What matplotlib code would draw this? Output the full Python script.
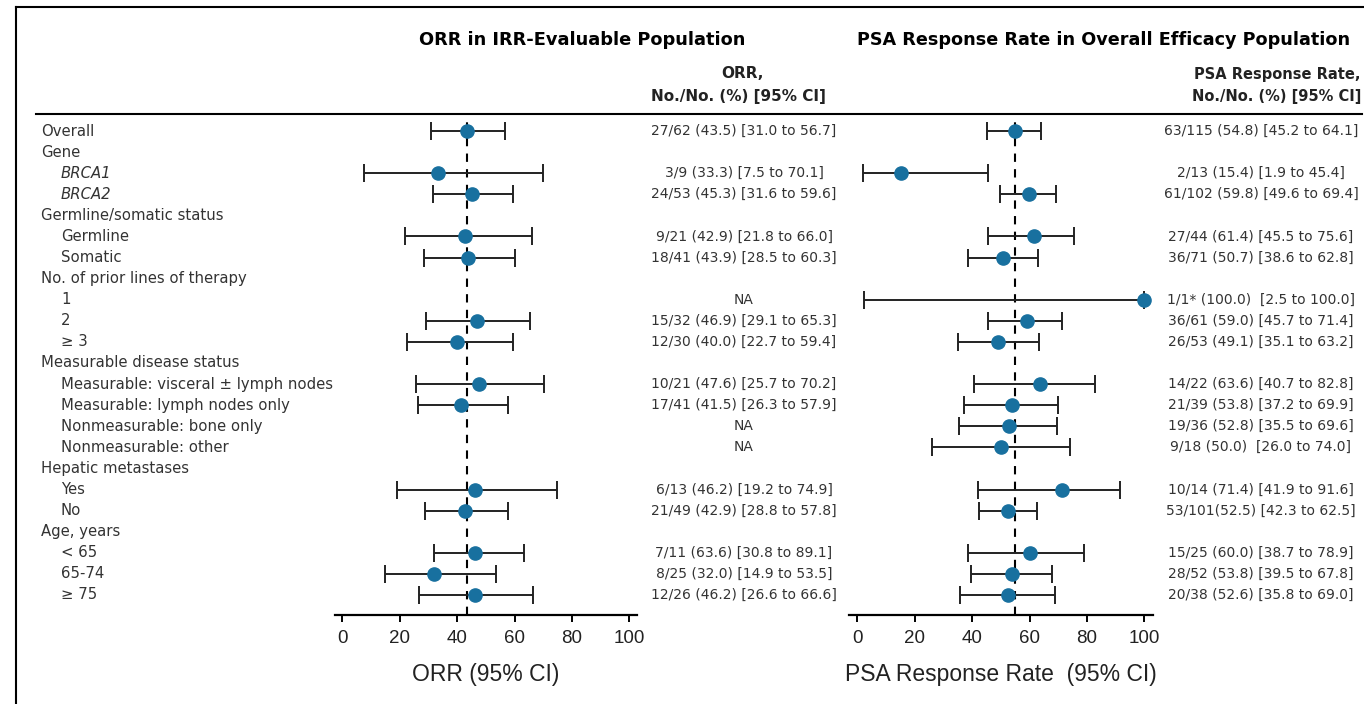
import numpy as np
import matplotlib
matplotlib.use("Agg")
import matplotlib.pyplot as plt
from matplotlib.lines import Line2D
from matplotlib.transforms import blended_transform_factory

nan = np.nan

# rows of the table, indent level 0 = group header
rows = ["Overall", "Gene", "BRCA1", "BRCA2", "Germline/somatic status", "Germline",
        "Somatic", "No. of prior lines of therapy", "1", "2", "\u2265 3",
        "Measurable disease status", "Measurable: visceral \u00b1 lymph nodes",
        "Measurable: lymph nodes only", "Nonmeasurable: bone only",
        "Nonmeasurable: other", "Hepatic metastases", "Yes", "No", "Age, years",
        "< 65", "65-74", "\u2265 75"]
indent = [0, 0, 1, 1, 0, 1, 1, 0, 1, 1, 1, 0, 1, 1, 1, 1, 0, 1, 1, 0, 1, 1, 1]
italic = ["BRCA1", "BRCA2"]

# ORR (as drawn)
orr = [43.5, nan, 33.3, 45.3, nan, 42.9, 43.9, nan, nan, 46.9, 40.0, nan, 47.6, 41.5,
       nan, nan, nan, 46.2, 42.9, nan, 46.2, 32.0, 46.2]
orr_lo = [31.0, nan, 7.5, 31.6, nan, 21.8, 28.5, nan, nan, 29.1, 22.7, nan, 25.7, 26.3,
          nan, nan, nan, 19.2, 28.8, nan, 31.8, 14.9, 26.6]
orr_hi = [56.7, nan, 70.1, 59.6, nan, 66.0, 60.3, nan, nan, 65.3, 59.4, nan, 70.2, 57.9,
          nan, nan, nan, 74.9, 57.8, nan, 63.2, 53.5, 66.6]
orr_txt = ["27/62 (43.5) [31.0 to 56.7]", "", "3/9 (33.3) [7.5 to 70.1]",
           "24/53 (45.3) [31.6 to 59.6]", "", "9/21 (42.9) [21.8 to 66.0]",
           "18/41 (43.9) [28.5 to 60.3]", "", "NA", "15/32 (46.9) [29.1 to 65.3]",
           "12/30 (40.0) [22.7 to 59.4]", "", "10/21 (47.6) [25.7 to 70.2]",
           "17/41 (41.5) [26.3 to 57.9]", "NA", "NA", "", "6/13 (46.2) [19.2 to 74.9]",
           "21/49 (42.9) [28.8 to 57.8]", "", "7/11 (63.6) [30.8 to 89.1]",
           "8/25 (32.0) [14.9 to 53.5]", "12/26 (46.2) [26.6 to 66.6]"]
orr_ref = 43.5

# PSA response rate
psa = [54.8, nan, 15.4, 59.8, nan, 61.4, 50.7, nan, 100.0, 59.0, 49.1, nan, 63.6, 53.8,
       52.8, 50.0, nan, 71.4, 52.5, nan, 60.0, 53.8, 52.6]
psa_lo = [45.2, nan, 1.9, 49.6, nan, 45.5, 38.6, nan, 2.5, 45.7, 35.1, nan, 40.7, 37.2,
          35.5, 26.0, nan, 41.9, 42.3, nan, 38.7, 39.5, 35.8]
psa_hi = [64.1, nan, 45.4, 69.4, nan, 75.6, 62.8, nan, 100.0, 71.4, 63.2, nan, 82.8, 69.9,
          69.6, 74.0, nan, 91.6, 62.5, nan, 78.9, 67.8, 69.0]
psa_txt = ["63/115 (54.8) [45.2 to 64.1]", "", "2/13 (15.4) [1.9 to 45.4]",
           "61/102 (59.8) [49.6 to 69.4]", "", "27/44 (61.4) [45.5 to 75.6]",
           "36/71 (50.7) [38.6 to 62.8]", "", "1/1* (100.0)  [2.5 to 100.0]",
           "36/61 (59.0) [45.7 to 71.4]", "26/53 (49.1) [35.1 to 63.2]", "",
           "14/22 (63.6) [40.7 to 82.8]", "21/39 (53.8) [37.2 to 69.9]",
           "19/36 (52.8) [35.5 to 69.6]", "9/18 (50.0)  [26.0 to 74.0]", "",
           "10/14 (71.4) [41.9 to 91.6]", "53/101(52.5) [42.3 to 62.5]", "",
           "15/25 (60.0) [38.7 to 78.9]", "28/52 (53.8) [39.5 to 67.8]",
           "20/38 (52.6) [35.8 to 69.0]"]
psa_ref = 54.8

ticks = [0, 20, 40, 60, 80, 100]

W, H = 1364, 704
fig = plt.figure(figsize=(W / 100, H / 100), dpi=100)
fig.patch.set_facecolor("white")

narrow = ["Liberation Sans", "DejaVu Sans"]
text_col = "#333333"
dot_col = "#18709f"

# pixel layout
y_top, y_bot = 114, 615
row0, row_step = 131, 21.09
ylim = ((y_bot - row0) / row_step, (y_top - row0) / row_step)


def fx(px):
    return px / W


def fy(py):
    return 1 - py / H


def make_axes(x0, x1, px_zero, px_per_unit):
    ax = fig.add_axes([fx(x0), fy(y_bot), fx(x1 - x0), (y_bot - y_top) / H])
    ax.set_xlim((x0 - px_zero) / px_per_unit, (x1 - px_zero) / px_per_unit)
    ax.set_ylim(*ylim)
    for s in ["top", "left", "right"]:
        ax.spines[s].set_visible(False)
    ax.spines["bottom"].set_linewidth(1.6)
    ax.set_yticks([])
    ax.set_xticks(ticks)
    ax.tick_params(axis="x", direction="out", length=5, width=1.4, pad=6,
                   labelsize=13.5, labelcolor="#222222")
    for lab in ax.get_xticklabels():
        lab.set_family(narrow)
    ax.patch.set_alpha(0)
    return ax


ax1 = make_axes(335, 637, 342.3, 2.87)
ax2 = make_axes(849, 1153, 857.3, 2.87)

y = np.arange(len(rows))
for ax, val, lo, hi, ref in [(ax1, orr, orr_lo, orr_hi, orr_ref),
                             (ax2, psa, psa_lo, psa_hi, psa_ref)]:
    val = np.array(val)
    lo = np.array(lo)
    hi = np.array(hi)
    ax.axvline(ref, color="black", lw=1.5, ls=(0, (4, 3.5)), zorder=1)
    ax.errorbar(val, y, xerr=[val - lo, hi - val], fmt="none", ecolor="#222222",
                elinewidth=1.4, capsize=6.5, capthick=1.4, zorder=2)
    ax.plot(val, y, "o", color=dot_col, ms=9.5, zorder=3)

ax1.set_xlabel("ORR (95% CI)", fontsize=16.5, family=narrow, color="#222222",
               labelpad=11)
ax2.set_xlabel("PSA Response Rate  (95% CI)", fontsize=16.5, family=narrow,
               color="#222222", labelpad=11)

# row labels and value columns
tr = blended_transform_factory(fig.transFigure, ax1.transData)
for i, name in enumerate(rows):
    style = "italic" if name in italic else "normal"
    fig.text(fx(41 + 20 * indent[i]), i, name, transform=tr, fontsize=10.7,
             color=text_col, va="center", ha="left", style=style)
    if orr_txt[i]:
        fig.text(fx(744), i, orr_txt[i], transform=tr, fontsize=10, color=text_col,
                 va="center", ha="center")
    if psa_txt[i]:
        fig.text(fx(1261), i, psa_txt[i], transform=tr, fontsize=10, color=text_col,
                 va="center", ha="center")

# headers
fig.text(fx(582), fy(40), "ORR in IRR-Evaluable Population", fontsize=12.8,
         weight="bold", ha="center", va="center")
fig.text(fx(1104), fy(40), "PSA Response Rate in Overall Efficacy Population",
         fontsize=12.7, weight="bold", ha="center", va="center")
fig.text(fx(742), fy(74), "ORR,", fontsize=11, weight="bold", ha="center", va="center",
         color="#222222")
fig.text(fx(738), fy(96), "No./No. (%) [95% CI]", fontsize=11, weight="bold",
         ha="center", va="center", color="#222222")
fig.text(fx(1361), fy(74), "PSA Response Rate,", fontsize=10.5, weight="bold",
         ha="right", va="center", color="#222222")
fig.text(fx(1361), fy(96), "No./No. (%) [95% CI]", fontsize=10.5, weight="bold",
         ha="right", va="center", color="#222222")

# frame and separator
fig.add_artist(Line2D([fx(36), fx(1362)], [fy(y_top), fy(y_top)], color="black", lw=1.5))
fig.add_artist(Line2D([fx(16), fx(16)], [fy(7), 0], color="black", lw=1.5))
fig.add_artist(Line2D([fx(16), 1], [fy(7), fy(7)], color="black", lw=1.5))

fig.savefig("out.png", dpi=100, facecolor="white")
